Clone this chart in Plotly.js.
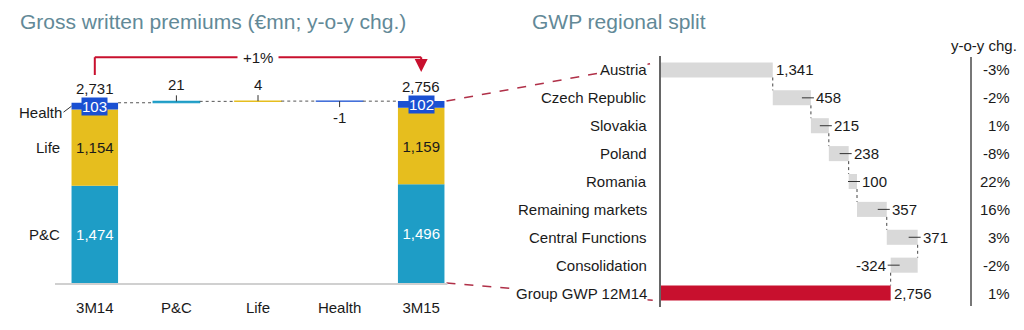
<!DOCTYPE html>
<html><head><meta charset="utf-8">
<script src="https://cdn.plot.ly/plotly-3.0.1.min.js"></script>
<style>html,body{margin:0;padding:0;background:#fff;}#chart{width:1024px;height:330px;}</style>
</head><body><div id="chart"></div>
<script>
// ---------- Left chart data ----------
const steps = ['3M14', 'P&C', 'Life', 'Health', '3M15'];
const segNames = ['P&C', 'Life', 'Health'];
const gwp3M14 = [1474, 1154, 103];
const gwp3M15 = [1496, 1159, 102];
const total3M14 = 2731;
const total3M15 = 2756;
const deltas = [21, 4, -1];
const growthLabel = '+1%';

// ---------- Right chart data ----------
const regions = ['Austria', 'Czech Republic', 'Slovakia', 'Poland', 'Romania', 'Remaining markets', 'Central Functions', 'Consolidation', 'Group GWP 12M14'];
const regionValues = [1341, 458, 215, 238, 100, 357, 371, -324, 2756];
const yoyChange = ['-3%', '-2%', '1%', '-8%', '22%', '16%', '3%', '-2%', '1%'];
const yoyHeader = 'y-o-y chg.';

// ---------- styles ----------
const FONT = 'Liberation Sans, Arial, sans-serif';
const TXT = '#1a1a1a';
const segColors = ['#1E9DC6', '#E6BE1E', '#1A50D2'];
const greyBar = '#D9D9D9';
const redBar = '#C8102E';
const red = '#C8102E';
const W = 1024, H = 330;

// Geometry (pixels)
const L = {x0: 54, x1: 462, yb: 283, yt: 19, ymax: 4000};
const R = {x0: 661, x1: 961, xmax: 3600, yt: 56, yb: 307};
const Lx = v => L.x0 + (v + 0.5) / steps.length * (L.x1 - L.x0);
const Ly = v => L.yb - v / L.ymax * (L.yb - L.yt);
const Rx = v => R.x0 + v / R.xmax * (R.x1 - R.x0);
const Ry = i => R.yt + (i + 0.5) / regions.length * (R.yb - R.yt);
const px = p => p / W, py = p => 1 - p / H;
const fmt = v => v.toLocaleString('en-US');

const LW = 0.57, RW = 0.54;
const traces = [];
const annotations = [];
const shapes = [];

// Baseline of the left chart
shapes.push({type: 'line', xref: 'paper', yref: 'paper', x0: px(L.x0 + 1), x1: px(Lx(steps.length - 1 + LW / 2) + 3),
  y0: py(L.yb + 1), y1: py(L.yb + 1), layer: 'above', line: {color: '#D0D0D0', width: 2}});

// Left stacked bars
let base14 = 0, base15 = 0;
segNames.forEach((name, i) => {
  traces.push({
    type: 'bar', x: ['3M14', '3M15'], y: [gwp3M14[i], gwp3M15[i]], base: [base14, base15],
    xaxis: 'x', yaxis: 'y', width: LW, name: name,
    marker: {color: segColors[i], line: {width: 0}},
    text: i < 2 ? [fmt(gwp3M14[i]), fmt(gwp3M15[i])] : ['', ''],
    textposition: i < 2 ? 'inside' : 'none', insidetextanchor: 'middle',
    textfont: {family: FONT, size: 15, color: i === 0 ? '#ffffff' : TXT},
    hoverinfo: 'skip', showlegend: false
  });
  if (i === 2) {
    annotations.push({x: '3M14', y: base14 + gwp3M14[i] / 2, xref: 'x', yref: 'y', text: fmt(gwp3M14[i]), showarrow: false,
      bgcolor: segColors[i], borderpad: 0, font: {family: FONT, size: 15, color: '#fff'}});
    annotations.push({x: '3M15', y: base15 + gwp3M15[i] / 2, xref: 'x', yref: 'y', text: fmt(gwp3M15[i]), showarrow: false,
      bgcolor: segColors[i], borderpad: 0, font: {family: FONT, size: 15, color: '#fff'}});
  }
  // segment names on the left of the first bar
  const mid = base14 + gwp3M14[i] / 2;
  if (i === 2) {
    annotations.push({x: 0, y: mid, xref: 'x', yref: 'y', xshift: -LW / 2 * 81.6, text: name, showarrow: true,
      arrowhead: 0, arrowwidth: 1, arrowcolor: '#333', ax: -8, ay: 6, xanchor: 'right',
      font: {family: FONT, size: 15, color: TXT}});
  } else {
    annotations.push({x: 0, y: mid, xref: 'x', yref: 'y', xshift: -LW / 2 * 81.6 - 10, text: name, showarrow: false,
      xanchor: 'right', font: {family: FONT, size: 15, color: TXT}});
  }
  base14 += gwp3M14[i];
  base15 += gwp3M15[i];
});

// Totals above bars
annotations.push({x: '3M14', y: total3M14, xref: 'x', yref: 'y', text: fmt(total3M14), showarrow: false, yanchor: 'bottom', yshift: 4,
  font: {family: FONT, size: 15, color: TXT}});
annotations.push({x: '3M15', y: total3M15, xref: 'x', yref: 'y', text: fmt(total3M15), showarrow: false, yanchor: 'bottom', yshift: 4,
  font: {family: FONT, size: 15, color: TXT}});

// Delta bars
const deltaBase = [];
let lvl = total3M14;
deltas.forEach(d => { deltaBase.push(lvl); lvl += d; });
traces.push({
  type: 'bar', x: steps.slice(1, 4), y: deltas, base: deltaBase, xaxis: 'x', yaxis: 'y', width: LW,
  marker: {color: segColors, line: {color: segColors, width: 1.2}}, textposition: 'none', hoverinfo: 'skip', showlegend: false
});
deltas.forEach((d, i) => {
  const top = deltaBase[i] + d;
  annotations.push({x: steps[i + 1], y: d >= 0 ? top : deltaBase[i], xref: 'x', yref: 'y', text: fmt(d),
    showarrow: true, arrowhead: 0, arrowwidth: 1, arrowcolor: '#333', ax: 0, ay: d >= 0 ? -6 : 6,
    yanchor: d >= 0 ? 'bottom' : 'top', font: {family: FONT, size: 15, color: TXT}});
});

// Dotted connectors on left
const levels = [total3M14];
deltas.forEach((d, i) => levels.push(levels[i] + d));
for (let i = 0; i < 4; i++) {
  shapes.push({type: 'line', xref: 'x', yref: 'y', x0: i + LW / 2, x1: i + 1 - LW / 2, y0: levels[i], y1: levels[i],
    line: {color: '#555', width: 1, dash: 'dot'}});
}

// Growth bracket
const bBase = total3M14 + 420, bTop = bBase + 270, bTip = total3M15 + 440;
shapes.push({type: 'line', xref: 'x', yref: 'y', x0: 0, x1: 0, y0: bBase, y1: bTop, line: {color: red, width: 2}});
shapes.push({type: 'line', xref: 'x', yref: 'y', x0: 0, x1: 4, y0: bTop, y1: bTop, line: {color: red, width: 2}});
shapes.push({type: 'line', xref: 'x', yref: 'y', x0: 4, x1: 4, y0: bTop, y1: bTip + 60, line: {color: red, width: 2}});
annotations.push({x: 4, y: bTip, xref: 'x', yref: 'y', text: '', showarrow: true, arrowhead: 2, arrowsize: 1.3, arrowwidth: 2,
  arrowcolor: red, ax: 0, ay: -10});
annotations.push({x: 2, y: bTop, xref: 'x', yref: 'y', text: growthLabel, showarrow: false, bgcolor: '#fff', borderpad: 5,
  font: {family: FONT, size: 15, color: TXT}});

// ---------- Right waterfall ----------
const rBase = [], rLen = [], rEnd = [];
let cum = 0;
regionValues.forEach((v, i) => {
  if (i === regionValues.length - 1) { rBase.push(0); rLen.push(v); rEnd.push(v); return; }
  if (v >= 0) { rBase.push(cum); rLen.push(v); } else { rBase.push(cum + v); rLen.push(-v); }
  cum += v; rEnd.push(cum);
});
traces.push({
  type: 'bar', orientation: 'h', y: regions, x: rLen, base: rBase, xaxis: 'x2', yaxis: 'y2', width: RW,
  marker: {color: regions.map((r, i) => i === regions.length - 1 ? redBar : greyBar), line: {width: 0}},
  textposition: 'none', hoverinfo: 'skip', showlegend: false
});
regionValues.forEach((v, i) => {
  const last = i === regionValues.length - 1;
  // category label (white background so the connector passes behind it)
  annotations.push({x: px(R.x0 - 13), y: regions[i], xref: 'paper', yref: 'y2', text: regions[i], showarrow: false, xanchor: 'right',
    bgcolor: '#fff', borderpad: 0, font: {family: FONT, size: 15, color: TXT}});
  if (i === 0 || last) {
    annotations.push({x: rEnd[i], y: regions[i], xref: 'x2', yref: 'y2', text: fmt(v), showarrow: false, xanchor: 'left', xshift: 1,
      font: {family: FONT, size: 15, color: TXT}});
  } else if (v >= 0) {
    annotations.push({x: rEnd[i], y: regions[i], xref: 'x2', yref: 'y2', text: fmt(v), showarrow: true, arrowhead: 0,
      arrowwidth: 1, arrowcolor: '#333', ax: 12, ay: 0, xshift: -9, xanchor: 'left', font: {family: FONT, size: 15, color: TXT}});
  } else {
    annotations.push({x: rEnd[i], y: regions[i], xref: 'x2', yref: 'y2', text: fmt(v), showarrow: true, arrowhead: 0,
      arrowwidth: 1, arrowcolor: '#333', ax: -12, ay: 0, xshift: 9, xanchor: 'right', font: {family: FONT, size: 15, color: TXT}});
  }
  if (i < regionValues.length - 1) {
    shapes.push({type: 'line', xref: 'x2', yref: 'y2', x0: rEnd[i], x1: rEnd[i], y0: i + RW / 2, y1: i + 1 - RW / 2,
      line: {color: '#444', width: 1, dash: 'dot'}});
  }
  annotations.push({x: px(1012), y: regions[i], xref: 'paper', yref: 'y2', text: yoyChange[i], showarrow: false, xanchor: 'right',
    font: {family: FONT, size: 15, color: TXT}});
});
annotations.push({x: px(1019), y: py(45), xref: 'paper', yref: 'paper', text: yoyHeader, showarrow: false, xanchor: 'right', yanchor: 'middle',
  font: {family: FONT, size: 15, color: TXT}});
shapes.push({type: 'line', xref: 'paper', yref: 'paper', x0: px(971), x1: px(971), y0: py(57), y1: py(306), line: {color: '#777', width: 2}});

// Red dashed connectors between the two charts
const lastIdx = steps.length - 1;
const halfRow = RW / 2 * (R.yb - R.yt) / regions.length;
shapes.push({type: 'line', xref: 'paper', yref: 'paper', layer: 'below',
  x0: px(Lx(lastIdx + LW / 2) + 2), y0: py(Ly(total3M15)), x1: px(Rx(0) - 4), y1: py(Ry(0) - halfRow),
  line: {color: '#B03048', width: 1.5, dash: 'dash'}});
shapes.push({type: 'line', xref: 'paper', yref: 'paper', layer: 'below',
  x0: px(Lx(lastIdx + LW / 2) + 2), y0: py(Ly(0)), x1: px(Rx(0) - 4), y1: py(Ry(regions.length - 1) + halfRow),
  line: {color: '#B03048', width: 1.5, dash: 'dash'}});

// Titles
annotations.push({x: px(18), y: py(22), xref: 'paper', yref: 'paper', text: 'Gross written premiums (€mn; y-o-y chg.)', showarrow: false,
  xanchor: 'left', yanchor: 'middle', font: {family: FONT, size: 21, color: '#628997'}});
annotations.push({x: px(530), y: py(22), xref: 'paper', yref: 'paper', text: 'GWP regional split', showarrow: false,
  xanchor: 'left', yanchor: 'middle', font: {family: FONT, size: 21, color: '#628997'}});

const layout = {
  width: W, height: H, margin: {l: 0, r: 0, t: 0, b: 0}, paper_bgcolor: '#fff', plot_bgcolor: 'rgba(0,0,0,0)',
  barmode: 'overlay', showlegend: false, font: {family: FONT, size: 15, color: TXT},
  xaxis: {domain: [px(L.x0), px(L.x1)], type: 'category', categoryorder: 'array', categoryarray: steps, range: [-0.5, 4.5],
    showline: false, ticks: 'outside', ticklen: 11, tickcolor: 'rgba(0,0,0,0)',
    tickfont: {family: FONT, size: 15, color: TXT}, showgrid: false, zeroline: false, fixedrange: true, anchor: 'y'},
  yaxis: {domain: [py(L.yb), py(L.yt)], range: [0, L.ymax], visible: false, fixedrange: true, anchor: 'x'},
  xaxis2: {domain: [px(R.x0), px(R.x1)], range: [0, R.xmax], visible: false, fixedrange: true, anchor: 'y2'},
  yaxis2: {domain: [py(R.yb), py(R.yt)], type: 'category', categoryorder: 'array', categoryarray: regions, range: [8.5, -0.5],
    showline: true, linecolor: '#666', linewidth: 2, showticklabels: false, ticks: '',
    showgrid: false, zeroline: false, fixedrange: true, anchor: 'x2'},
  annotations: annotations, shapes: shapes
};
Plotly.newPlot('chart', traces, layout, {staticPlot: true, displayModeBar: false});
</script>
</body></html>
